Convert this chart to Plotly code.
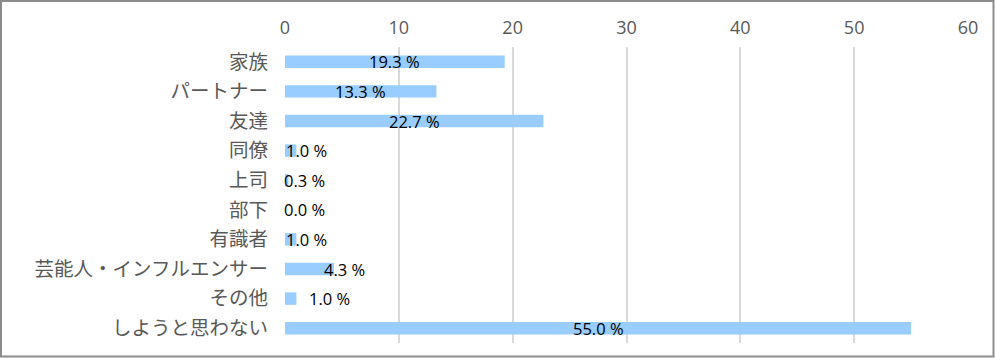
import plotly.graph_objects as go

categories = ["家族", "パートナー", "友達", "同僚", "上司", "部下", "有識者",
              "芸能人・インフルエンサー", "その他", "しようと思わない"]
values = [19.3, 13.3, 22.7, 1.0, 0.3, 0.0, 1.0, 4.3, 1.0, 55.0]
x_ticks = [0, 10, 20, 30, 40, 50, 60]

W, H = 995, 358
L, R, T, B = 285, 27, 47, 15
pw, ph = W - L - R, H - T - B

fig = go.Figure()
fig.add_trace(go.Bar(
    y=categories, x=values, orientation="h",
    marker=dict(color="#99CCFF", line=dict(width=0)),
    width=0.42, hoverinfo="skip",
))

lab_font = dict(size=16.5, color="#000000", family="Open Sans, sans-serif")
annotations = []
for c, v in zip(categories, values):
    txt = f"{v:.1f} %"
    if c == "その他":
        annotations.append(dict(x=v + 0.9, y=c, text=txt, xanchor="left",
                                showarrow=False, font=lab_font))
    elif v < 5:
        annotations.append(dict(x=max(0, v - 0.8), y=c, text=txt, xanchor="left", xshift=-3,
                                showarrow=False, font=lab_font))
    else:
        annotations.append(dict(x=v / 2, y=c, text=txt, xanchor="center",
                                showarrow=False, font=lab_font))

fig.update_layout(
    width=W, height=H,
    margin=dict(l=L, r=R, t=T, b=B, pad=0),
    paper_bgcolor="white", plot_bgcolor="white",
    showlegend=False,
    annotations=annotations,
    xaxis=dict(range=[0, 60], side="top", tickvals=x_ticks,
               showgrid=True, gridcolor="#D9D9D9", gridwidth=1.5,
               zeroline=False, showline=False, ticks="",
               tickfont=dict(size=18, color="#595959", family="Open Sans, Noto Sans, sans-serif"),
               ticklabelstandoff=8),
    yaxis=dict(categoryorder="array", categoryarray=categories, autorange="reversed",
               showgrid=False, zeroline=False, showline=False, ticks="",
               tickfont=dict(size=19.5, color="#595959", family="Noto Sans CJK JP, sans-serif"),
               ticklabelstandoff=16),
    shapes=[dict(type="rect", xref="paper", yref="paper",
                 x0=-(L - 1) / pw, x1=1 + (R - 1.5) / pw,
                 y0=-(B - 1.5) / ph, y1=1 + (T - 1) / ph,
                 line=dict(color="#8C8C8C", width=2), fillcolor="rgba(0,0,0,0)", layer="above")],
)

fig.write_html("out.html", config={"displayModeBar": False})
with open("out.html", encoding="utf-8") as f:
    html = f.read()
html = html.replace("<head>", "<head><style>html,body{margin:0;padding:0;overflow:hidden;}</style>", 1)
with open("out.html", "w", encoding="utf-8") as f:
    f.write(html)
